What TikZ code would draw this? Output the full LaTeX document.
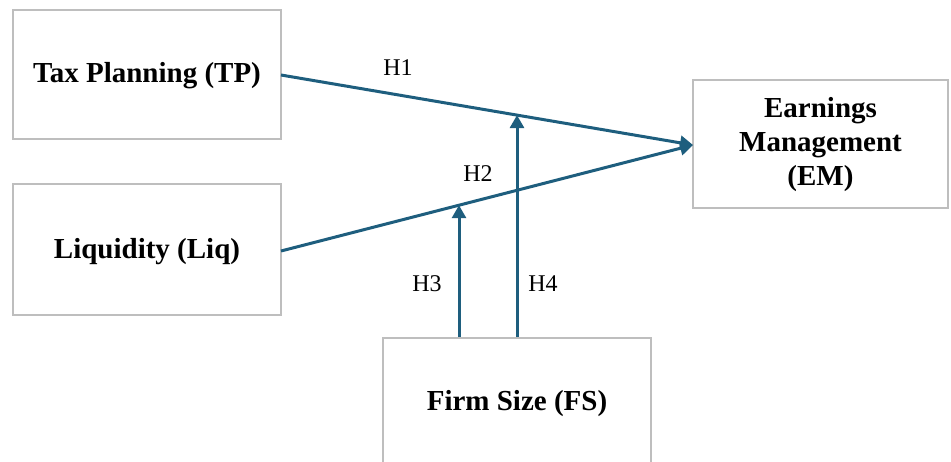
\documentclass[tikz,border=0pt]{standalone}
\usepackage{fontspec}
\setmainfont{Liberation Serif}
\usetikzlibrary{arrows.meta,calc}
\definecolor{linkblue}{RGB}{30,94,126}
\definecolor{boxgrey}{RGB}{190,190,190}
\tikzset{
  varbox/.style={draw=boxgrey, line width=1.8pt, fill=white, inner sep=0pt},
  vartext/.style={align=center, inner sep=0pt,
    font=\bfseries\fontsize{29}{34}\selectfont},
  hyp/.style={font=\fontsize{24}{27}\selectfont, inner sep=1pt},
  link/.style={draw=linkblue, line width=3pt,
    -{Triangle[length=13pt, width=14pt]}},
}
\begin{document}
\begin{tikzpicture}[x=1pt, y=-1pt]
  \useasboundingbox (0,0) rectangle (951,461);
  % variable boxes
  \node[varbox, minimum width=268pt, minimum height=129pt] (tp) at (147,74.5) {};
  \node[varbox, minimum width=268pt, minimum height=131pt] (liq) at (147,249.5) {};
  \node[varbox, minimum width=255pt, minimum height=128pt] (em) at (820.5,144) {};
  \node[varbox, minimum width=268pt, minimum height=160pt, anchor=north] (fs) at (517,337) {};
  % variable names
  \node[vartext] (tptext) at (147,76) {Tax Planning (TP)};
  \node[vartext] (liqtext) at (147,252) {Liquidity (Liq)};
  \node[vartext] (emtext) at (820.5,145) {Earnings\\Management\\(EM)};
  \node[vartext] (fstext) at (517,404) {Firm Size (FS)};
  % end points of the direct paths
  \coordinate (emin) at (693,145);
  \coordinate (tpout) at (281,75);
  \coordinate (liqout) at (281,251);
  % tips of the moderating arrows on the direct paths
  \coordinate (h3tip) at ($(liqout)!0.432!(emin)$);
  \coordinate (h4tip) at ($(tpout)!0.573!(emin)$);
  \coordinate (h3base) at (459,337);
  \coordinate (h4base) at (517,337);
  % direct paths
  \draw[link] (tpout) -- (emin);
  \draw[link] (liqout) -- (emin);
  % moderating paths
  \draw[link] (h3base) -- (h3base |- h3tip);
  \draw[link] (h4base) -- (h4base |- h4tip);
  % hypothesis labels
  \node[hyp] (h1) at (398,68) {H1};
  \node[hyp] (h2) at (478,174) {H2};
  \node[hyp] (h3) at (427,284) {H3};
  \node[hyp] (h4) at (543,284) {H4};
\end{tikzpicture}
\end{document}
